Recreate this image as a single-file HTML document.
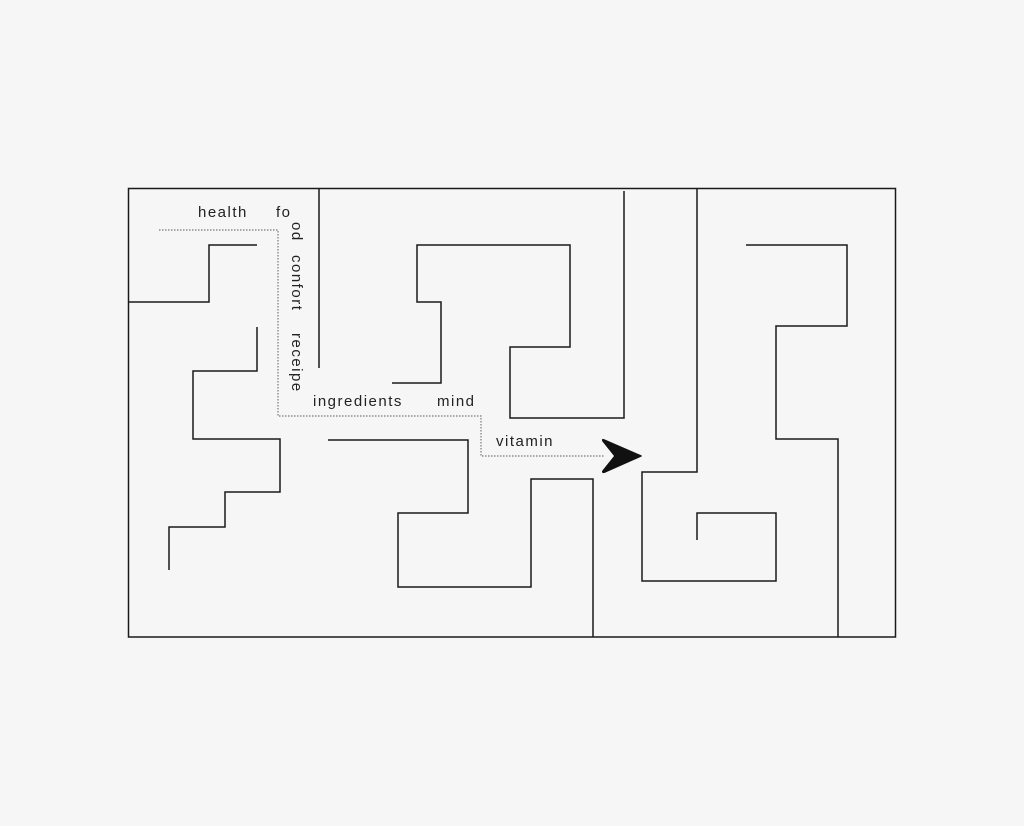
<!DOCTYPE html>
<html><head><style>
html,body{margin:0;padding:0;background:#f6f6f6;}
svg{display:block;}
text{font-family:"Liberation Sans",sans-serif;font-size:15px;fill:#222;letter-spacing:1.5px;}
</style></head><body>
<svg width="1024" height="826" viewBox="0 0 1024 826" xmlns="http://www.w3.org/2000/svg">
<rect width="1024" height="826" fill="#f6f6f6"/>
<g fill="none" stroke="#1a1a1a" stroke-width="1.5">
<rect x="128.5" y="188.5" width="767" height="448.5"/>
<polyline points="319,188 319,368"/>
<polyline points="128,302 209,302 209,245 257,245"/>
<polyline points="257,327 257,371 193,371 193,439 280,439 280,492 225,492 225,527 169,527 169,570"/>
<polyline points="392,383 441,383 441,302 417,302 417,245 570,245 570,347 510,347 510,418 624,418 624,191"/>
<polyline points="328,440 468,440 468,513 398,513 398,587 531,587 531,479 593,479 593,637"/>
<polyline points="697,188 697,472 642,472 642,581 776,581 776,513 697,513 697,540"/>
<polyline points="746,245 847,245 847,326 776,326 776,439 838,439 838,637"/>
</g>
<polyline points="159,230 278,230 278,416 481,416 481,456 604,456" fill="none" stroke="#777" stroke-width="1.2" stroke-dasharray="1.5,1.5"/>
<path d="M641,456 L604,440 Q602,439 603,441 L615,456 L603,471 Q602,473 605,472 Z" fill="#111" stroke="#111" stroke-width="1.5" stroke-linejoin="round"/>
<text x="198" y="217">health</text>
<text x="276" y="217">fo</text>
<text transform="translate(292,222) rotate(90)">od</text>
<text transform="translate(292,255) rotate(90)">confort</text>
<text transform="translate(292,333) rotate(90)">receipe</text>
<text x="313" y="406">ingredients</text>
<text x="437" y="406">mind</text>
<text x="496" y="446">vitamin</text>
</svg>
</body></html>
